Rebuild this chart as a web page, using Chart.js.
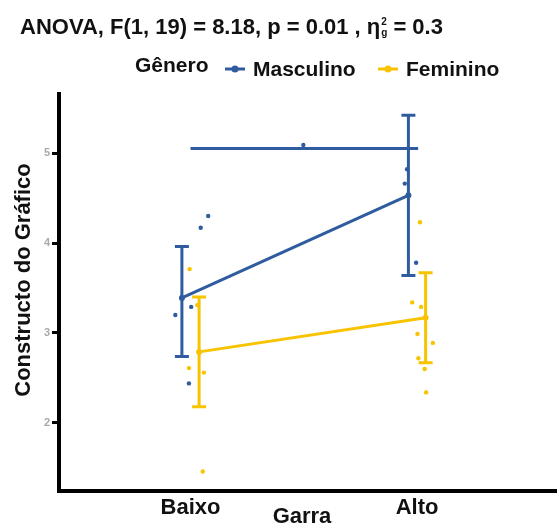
<!DOCTYPE html>
<html>
<head>
<meta charset="utf-8">
<script src="https://cdn.jsdelivr.net/npm/chart.js@4"></script>
<style>
  html, body { margin: 0; padding: 0; background: #fff; }
  #wrap { width: 557px; height: 529px; }
</style>
</head>
<body>
<div id="wrap"><canvas id="anovaChart" width="557" height="529"></canvas></div>
<script>
// Garra levels and the two gender groups
const categories = ['Baixo', 'Alto'];
const catPos = [1, 2];
const groups = ['Masculino', 'Feminino'];

// group means with their interval limits
const mascMean = [3.39, 4.53];
const mascLow = [2.74, 3.64];
const mascHigh = [3.96, 5.42];
const femMean = [2.79, 3.17];
const femLow = [2.18, 2.67];
const femHigh = [3.40, 3.67];

// individual (jittered) observations
const mascX = [1.078, 1.045, 1.003, 0.933, 0.993, 1.498, 1.956, 1.946, 1.996];
const mascY = [4.30, 4.17, 3.29, 3.20, 2.44, 5.09, 4.82, 4.66, 3.78];
const femX = [0.996, 1.030, 0.993, 1.059, 1.054, 2.013, 1.979, 2.018, 2.002, 2.070, 2.006, 2.034, 2.040];
const femY = [3.71, 3.31, 2.61, 2.56, 1.46, 4.23, 3.34, 3.29, 2.99, 2.89, 2.72, 2.60, 2.34];

// horizontal line across both levels
const refX = [1, 2.005];
const refY = [5.05, 5.05];

const yTicks = [2, 3, 4, 5];

const blue = '#2f5c9e';
const yellow = '#f8c300';
const dodge = 0.038;
const boldFont = '"Liberation Sans", Arial, sans-serif';

const meanPoints = (means, shift) => means.map((m, i) => ({ x: catPos[i] + shift, y: m }));
const rawPoints = (xs, ys) => xs.map((v, i) => ({ x: v, y: ys[i] }));

const errorBars = {
  id: 'errorBars',
  afterDatasetsDraw(chart) {
    const { ctx, scales: { x, y } } = chart;
    const sets = [
      [femLow, femHigh, dodge, yellow],
      [mascLow, mascHigh, -dodge, blue]
    ];
    ctx.save();
    ctx.lineWidth = 3;
    sets.forEach(([lo, hi, shift, color]) => {
      ctx.strokeStyle = color;
      lo.forEach((l, i) => {
        const px = x.getPixelForValue(catPos[i] + shift);
        const y1 = y.getPixelForValue(l);
        const y2 = y.getPixelForValue(hi[i]);
        ctx.beginPath();
        ctx.moveTo(px, y1); ctx.lineTo(px, y2);
        ctx.moveTo(px - 7, y1); ctx.lineTo(px + 7, y1);
        ctx.moveTo(px - 7, y2); ctx.lineTo(px + 7, y2);
        ctx.stroke();
      });
    });
    ctx.restore();
  }
};

const textLayer = {
  id: 'textLayer',
  afterDraw(chart) {
    const ctx = chart.ctx;
    ctx.save();
    ctx.fillStyle = '#111';
    ctx.textBaseline = 'alphabetic';

    // title with the partial eta squared symbol
    ctx.font = 'bold 22px ' + boldFont;
    ctx.textAlign = 'left';
    const head = 'ANOVA, F(1, 19) = 8.18, p = 0.01 , η';
    ctx.fillText(head, 20, 34);
    const hx = 20 + ctx.measureText(head).width;
    ctx.font = 'bold 10px ' + boldFont;
    ctx.fillText('2', hx + 1, 25);
    ctx.fillText('g', hx + 1, 36);
    ctx.font = 'bold 22px ' + boldFont;
    ctx.fillText(' = 0.3', hx + 7, 34);

    // legend
    ctx.font = 'bold 21px ' + boldFont;
    ctx.fillText('Gênero', 135, 72);
    const items = [[groups[0], blue, 225], [groups[1], yellow, 378]];
    items.forEach(([label, color, lx]) => {
      ctx.strokeStyle = color;
      ctx.fillStyle = color;
      ctx.lineWidth = 3;
      ctx.beginPath();
      ctx.moveTo(lx, 69); ctx.lineTo(lx + 20, 69);
      ctx.stroke();
      ctx.beginPath();
      ctx.arc(lx + 10, 69, 3.5, 0, Math.PI * 2);
      ctx.fill();
      ctx.fillStyle = '#111';
      ctx.fillText(label, lx + 28, 76);
    });

    // axis titles
    ctx.font = 'bold 22px ' + boldFont;
    ctx.textAlign = 'center';
    ctx.fillText('Garra', 302, 523);
    ctx.translate(30, 280);
    ctx.rotate(-Math.PI / 2);
    ctx.fillText('Constructo do Gráfico', 0, 0);
    ctx.restore();
  }
};

const ctx = document.getElementById('anovaChart').getContext('2d');

new Chart(ctx, {
  type: 'scatter',
  data: {
    datasets: [
      {
        label: 'ref',
        data: rawPoints(refX, refY),
        showLine: true,
        borderColor: blue,
        borderWidth: 3,
        pointRadius: 0
      },
      {
        label: groups[1] + ' obs',
        data: rawPoints(femX, femY),
        backgroundColor: yellow,
        borderWidth: 0,
        pointRadius: 2.2
      },
      {
        label: groups[0] + ' obs',
        data: rawPoints(mascX, mascY),
        backgroundColor: blue,
        borderWidth: 0,
        pointRadius: 2.2
      },
      {
        label: groups[1],
        data: meanPoints(femMean, dodge),
        showLine: true,
        borderColor: yellow,
        backgroundColor: yellow,
        borderWidth: 3,
        pointRadius: 1.5
      },
      {
        label: groups[0],
        data: meanPoints(mascMean, -dodge),
        showLine: true,
        borderColor: blue,
        backgroundColor: blue,
        borderWidth: 3,
        pointRadius: 1.5
      }
    ]
  },
  options: {
    responsive: false,
    animation: false,
    layout: { autoPadding: false, padding: { top: 94, right: 0, left: 0, bottom: 0 } },
    plugins: {
      legend: { display: false },
      title: { display: false },
      tooltip: { enabled: false }
    },
    scales: {
      x: {
        type: 'linear',
        min: 0.4194,
        max: 2.618,
        afterFit: (scale) => { scale.height = 38; },
        afterBuildTicks: (scale) => { scale.ticks = catPos.map(v => ({ value: v })); },
        grid: { display: false, drawTicks: false },
        border: { display: true, color: '#000', width: 4 },
        ticks: {
          padding: 4,
          color: '#111',
          font: { family: boldFont, size: 22, weight: 'bold' },
          callback: (v) => categories[catPos.indexOf(v)]
        }
      },
      y: {
        min: 1.244,
        max: 5.656,
        afterFit: (scale) => { scale.width = 59; },
        afterBuildTicks: (scale) => { scale.ticks = yTicks.map(v => ({ value: v })); },
        grid: { drawOnChartArea: false, drawTicks: true, tickLength: 7, color: '#000', lineWidth: 3 },
        border: { display: true, color: '#000', width: 4 },
        ticks: {
          padding: 2,
          color: '#a9a9a9',
          font: { family: boldFont, size: 11, weight: 'bold' }
        }
      }
    }
  },
  plugins: [errorBars, textLayer]
});
</script>
</body>
</html>
